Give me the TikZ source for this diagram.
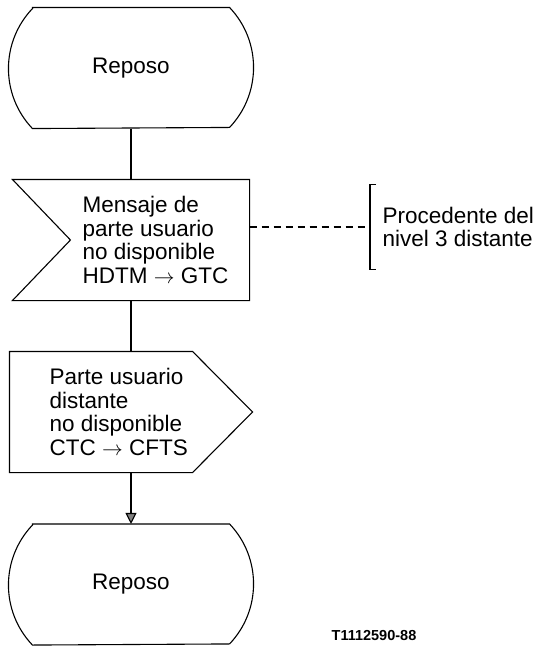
\documentclass[tikz,border=0pt]{standalone}
\usepackage{fontspec}
\setmainfont{Liberation Sans}
\usetikzlibrary{arrows.meta}

\begin{document}
\begin{tikzpicture}[x=1pt,y=1pt,line width=1.1pt,
  txt/.style={align=left, inner sep=0pt, font=\fontsize{22.5}{23.5}\selectfont},
  state/.style={txt, minimum width=196pt, minimum height=120pt},
  sigbox/.style={minimum width=236pt, minimum height=120pt, inner sep=0pt},
  outbox/.style={minimum width=242pt, minimum height=120pt, inner sep=0pt},
  brk/.style={minimum width=5pt, minimum height=84pt, inner sep=0pt}]
\useasboundingbox (0,0) rectangle (547,-646);

\node[state] (idle) at (131,-68) {Reposo};
\node[sigbox] (msg) at (131,-240) {};
\node[txt, anchor=west] (msgtext) at (82,-240) {Mensaje de\\parte usuario\\no disponible\\HDTM $\rightarrow$ GTC};
\node[outbox] (send) at (131,-412) {};
\node[txt, anchor=west] (sendtext) at (49,-412) {Parte usuario\\distante\\no disponible\\CTC $\rightarrow$ CFTS};
\node[state] (idle2) at (131,-584.5) {Reposo};
\node[brk] (src) at (373,-227) {};
\node[txt, anchor=west] (srctext) at (382,-227) {Procedente del\\nivel 3 distante};
\node[inner sep=0pt, font=\bfseries\fontsize{14.5}{14.5}\selectfont] (ref) at (374,-636) {T1112590-88};

\draw (idle.north west) -- (idle.north east) arc[start angle=43.6, end angle=-43.6, radius=87pt]
  -- (idle.south west) arc[start angle=223.6, end angle=136.4, radius=87pt] -- cycle;
\draw (msg.north west) -- (msg.north east) -- (msg.south east) -- (msg.south west) -- ([xshift=58pt]msg.west) -- cycle;
\draw (send.north west) -- ([xshift=-60pt]send.north east) -- (send.east) -- ([xshift=-60pt]send.south east) -- (send.south west) -- cycle;
\draw (idle2.north west) -- (idle2.north east) arc[start angle=43.6, end angle=-43.6, radius=87pt]
  -- (idle2.south west) arc[start angle=223.6, end angle=136.4, radius=87pt] -- cycle;
\draw (src.north east) -- (src.north west) -- (src.south west) -- (src.south east);

\draw (idle) -- (msg);
\draw (msg) -- (send);
\draw[-{Triangle[width=11pt, length=11pt, fill=gray]}] (send) -- (idle2);
\draw[dash pattern=on 7pt off 5pt] (msg.east |- src.west) -- (src.west);
\end{tikzpicture}
\end{document}
